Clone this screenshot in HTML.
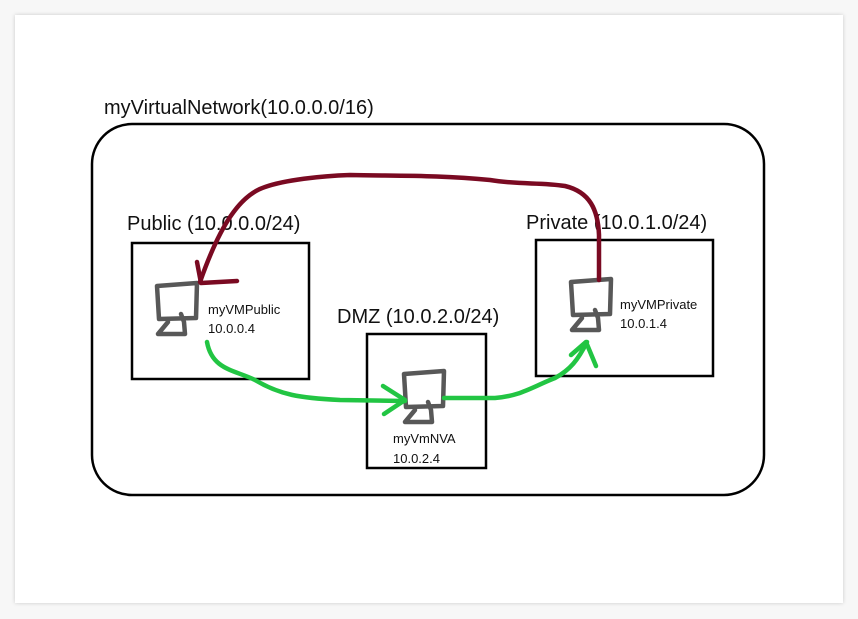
<!DOCTYPE html>
<html><head><style>
html,body{margin:0;padding:0;background:#f7f7f7;}
.card{position:absolute;left:15px;top:15px;width:828px;height:588px;background:#fff;box-shadow:0 0 4px rgba(0,0,0,0.18);}
svg{position:absolute;left:0;top:0;}
text{font-family:"Liberation Sans",sans-serif;fill:#111;}
</style></head><body>
<div class="card"></div>
<svg width="858" height="619" viewBox="0 0 858 619">
<defs>
<g id="mon" fill="none" stroke="#585858" stroke-width="4.5" stroke-linejoin="round" stroke-linecap="round">
<path d="M2,4 L42,1 L41,36 L4,37 Z"/>
<path d="M26,32 L29,40 L30,52 L3,52 L13,40"/>
</g>
</defs>
<rect x="92" y="124" width="672" height="371" rx="40" ry="40" fill="none" stroke="#000" stroke-width="2.5"/>
<text x="104" y="114" font-size="20">myVirtualNetwork(10.0.0.0/16)</text>

<rect x="132" y="243" width="177" height="136" fill="none" stroke="#000" stroke-width="2.5"/>
<text x="127" y="230" font-size="20">Public (10.0.0.0/24)</text>
<use href="#mon" x="155" y="282"/>
<text x="208" y="314" font-size="13">myVMPublic</text>
<text x="208" y="333" font-size="13">10.0.0.4</text>

<rect x="536" y="240" width="177" height="136" fill="none" stroke="#000" stroke-width="2.5"/>
<text x="526" y="229" font-size="20">Private (10.0.1.0/24)</text>
<use href="#mon" x="569" y="278"/>
<text x="620" y="309" font-size="13">myVMPrivate</text>
<text x="620" y="328" font-size="13">10.0.1.4</text>

<rect x="367" y="334" width="119" height="134" fill="none" stroke="#000" stroke-width="2.5"/>
<text x="337" y="323" font-size="20">DMZ (10.0.2.0/24)</text>
<use href="#mon" x="402" y="370"/>
<text x="393" y="443" font-size="13">myVmNVA</text>
<text x="393" y="463" font-size="13">10.0.2.4</text>

<g fill="none" stroke="#7a0a22" stroke-width="4.5" stroke-linecap="round" stroke-linejoin="round">
<path d="M599,280 L599,235 C598,210 590,192 565,186 C540,182 520,185 490,180 C440,175 400,176 350,175 C320,176 285,180 265,187 C240,195 220,225 200,282"/>
<path d="M197,262 L201,283 L237,281"/>
</g>
<g fill="none" stroke="#22c543" stroke-width="4.5" stroke-linecap="round" stroke-linejoin="round">
<path d="M207,342 C212,370 235,370 255,380 C280,395 300,398 340,400 L405,401"/>
<path d="M383,386 L405,400 L384,414"/>
<path d="M444,398 L495,398 C520,396 530,388 555,378 C570,370 578,360 587,342"/>
<path d="M571,355 L586,342 L596,366"/>
</g>
</svg>
</body></html>
